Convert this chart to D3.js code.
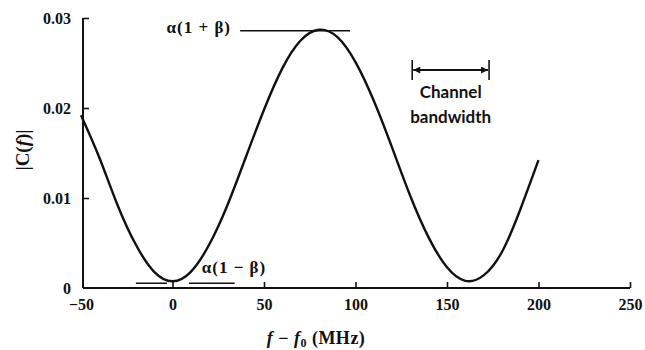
<!DOCTYPE html>
<html>
<head>
<meta charset="utf-8">
<script src="https://cdn.jsdelivr.net/npm/d3@7"></script>
<style>
  body { margin: 0; background: #fff; }
  svg { display: block; }
  text { fill: #111; }
</style>
</head>
<body>
<svg id="chart" width="645" height="350"></svg>
<script>
// Data
const freqs = [-50, -40, -30, -20, -10, 0, 10, 20, 30, 40, 50, 60, 70, 80, 90, 100, 110, 120, 130, 140, 150, 160, 170, 180, 190, 200];
const magnitude = [0.0192, 0.0145, 0.0092, 0.0048, 0.0018, 0.00075, 0.0018, 0.0048, 0.0092, 0.0145, 0.0198, 0.0244, 0.0275, 0.0287, 0.0279, 0.0251, 0.0208, 0.0156, 0.0102, 0.0056, 0.0023, 0.0008, 0.0014, 0.0040, 0.0087, 0.0142];
const xTicks = [-50, 0, 50, 100, 150, 200, 250];
const yTicks = [0, 0.01, 0.02, 0.03];
const xTickLabels = ["\u221250", "0", "50", "100", "150", "200", "250"];
const yTickLabels = ["0", "0.01", "0.02", "0.03"];
const peakLevel = 0.0287;
const troughLevel = 0.00075;
const bandwidthRange = [131, 173];

const svg = d3.select("#chart");
const x = d3.scaleLinear().domain([-50, 250]).range([81, 630]);
const y = d3.scaleLinear().domain([0, 0.03]).range([288, 18]);

const font = "'Liberation Serif', serif";
const sans = "Lato, 'Open Sans', sans-serif";

// X axis
const xAxis = d3.axisBottom(x).tickValues(xTicks)
  .tickFormat((d, i) => xTickLabels[i]).tickSizeInner(-6).tickSizeOuter(0).tickPadding(11);
const gx = svg.append("g").attr("transform", `translate(0,${y(0)})`).call(xAxis);
gx.select(".domain").attr("d", `M${x(-50) + 2},0H${x(250)}`).attr("stroke", "#111").attr("stroke-width", 2);
gx.selectAll(".tick line").attr("stroke", "#111").attr("stroke-width", 1.6)
  .attr("display", d => d === -50 ? "none" : null);
gx.selectAll(".tick text").attr("font-family", font).attr("font-size", 16).attr("font-weight", "bold").attr("fill", "#111");

// Y axis
const yAxis = d3.axisLeft(y).tickValues(yTicks)
  .tickFormat((d, i) => yTickLabels[i]).tickSizeInner(-6).tickSizeOuter(0).tickPadding(12);
const gy = svg.append("g").attr("transform", `translate(${x(-50) + 2},0)`).call(yAxis);
gy.select(".domain").attr("d", `M0,${y(0)}V${y(0.03)}`).attr("stroke", "#111").attr("stroke-width", 2);
gy.selectAll(".tick line").attr("stroke", "#111").attr("stroke-width", 1.6)
  .attr("display", d => d === 0 ? "none" : null);
gy.selectAll(".tick text").attr("font-family", font).attr("font-size", 16).attr("font-weight", "bold").attr("fill", "#111");

// Curve
const line = d3.line().x((d, i) => x(freqs[i])).y(d => y(d)).curve(d3.curveNatural);
svg.append("path").datum(magnitude).attr("d", line)
  .attr("fill", "none").attr("stroke", "#111").attr("stroke-width", 2.4);

// Peak annotation
svg.append("line").attr("x1", x(37)).attr("x2", x(97)).attr("y1", y(peakLevel) + 1).attr("y2", y(peakLevel) + 1)
  .attr("stroke", "#111").attr("stroke-width", 1.4);
svg.append("text").attr("x", x(32)).attr("y", y(peakLevel) + 3).attr("text-anchor", "end")
  .attr("font-family", font).attr("font-size", 17).attr("font-weight", "bold").attr("letter-spacing", 1)
  .text("\u03b1(1 + \u03b2)");

// Trough annotation
svg.append("line").attr("x1", x(-20)).attr("x2", x(-3)).attr("y1", y(troughLevel) + 2).attr("y2", y(troughLevel) + 2)
  .attr("stroke", "#111").attr("stroke-width", 1.4);
svg.append("line").attr("x1", x(9)).attr("x2", x(34)).attr("y1", y(troughLevel) + 2).attr("y2", y(troughLevel) + 2)
  .attr("stroke", "#111").attr("stroke-width", 1.4);
svg.append("text").attr("x", x(16)).attr("y", y(troughLevel) - 8)
  .attr("font-family", font).attr("font-size", 17).attr("font-weight", "bold").attr("letter-spacing", 1)
  .text("\u03b1(1 \u2212 \u03b2)");

// Channel bandwidth
const defs = svg.append("defs");
defs.append("marker").attr("id", "arr").attr("viewBox", "0 0 10 10").attr("refX", 10).attr("refY", 5)
  .attr("markerWidth", 10).attr("markerHeight", 7).attr("markerUnits", "userSpaceOnUse")
  .attr("orient", "auto-start-reverse")
  .append("path").attr("d", "M0,0L10,5L0,10Z").attr("fill", "#111");
const by = 70;
svg.append("line").attr("x1", x(bandwidthRange[0]) + 1).attr("x2", x(bandwidthRange[1]) - 1)
  .attr("y1", by).attr("y2", by).attr("stroke", "#111").attr("stroke-width", 2)
  .attr("marker-start", "url(#arr)").attr("marker-end", "url(#arr)");
bandwidthRange.forEach(f => {
  svg.append("line").attr("x1", x(f)).attr("x2", x(f)).attr("y1", by - 10).attr("y2", by + 10)
    .attr("stroke", "#111").attr("stroke-width", 1.6);
});
const bx = (x(bandwidthRange[0]) + x(bandwidthRange[1])) / 2;
svg.append("text").attr("x", bx).attr("y", 98).attr("text-anchor", "middle")
  .attr("font-family", sans).attr("font-size", 17).attr("font-weight", "bold").text("Channel");
svg.append("text").attr("x", bx).attr("y", 123).attr("text-anchor", "middle")
  .attr("font-family", sans).attr("font-size", 17).attr("font-weight", "bold").text("bandwidth");

// Axis titles
const yl = svg.append("text").attr("transform", "translate(29,150) rotate(-90)")
  .attr("text-anchor", "middle").attr("font-family", font).attr("font-size", 19).attr("font-weight", "bold");
yl.append("tspan").text("|C(");
yl.append("tspan").attr("font-style", "italic").text("f");
yl.append("tspan").text(")|");

const xl = svg.append("text").attr("x", 316).attr("y", 344).attr("text-anchor", "middle")
  .attr("font-family", font).attr("font-size", 18).attr("font-weight", "bold").attr("letter-spacing", 0.5);
xl.append("tspan").attr("font-style", "italic").text("f");
xl.append("tspan").text(" \u2212 ");
xl.append("tspan").attr("font-style", "italic").text("f");
xl.append("tspan").attr("font-size", 12).attr("dy", 3).text("0");
xl.append("tspan").attr("dy", -3).text(" (MHz)");
</script>
</body>
</html>
